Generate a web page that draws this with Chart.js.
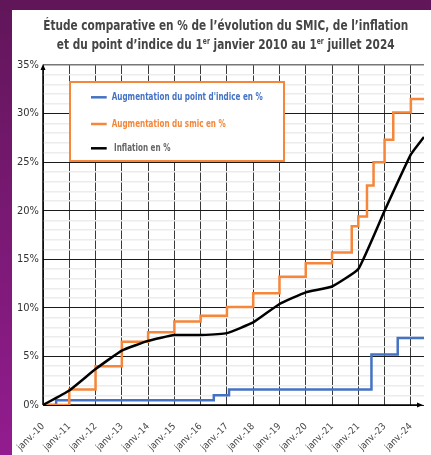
<!DOCTYPE html>
<html lang="fr">
<head>
<meta charset="utf-8">
<script src="https://cdn.jsdelivr.net/npm/chart.js@4.4.1/dist/chart.umd.min.js"></script>
<style>
  html, body { margin: 0; padding: 0; }
  body { width: 431px; height: 455px; overflow: hidden; position: relative;
         background: linear-gradient(to bottom, #611659, #931c8f); }
  #wrap { position: absolute; left: 12px; top: 10px; width: 419px; height: 445px; background: #fff; }
</style>
</head>
<body>
<div id="wrap"><canvas id="smicChart"></canvas></div>
<script>
// x tick labels (one per january, the typo on 2022 is in the original)
const xLabels = ['janv.-10', 'janv.-11', 'janv.-12', 'janv.-13', 'janv.-14', 'janv.-15', 'janv.-16',
  'janv.-17', 'janv.-18', 'janv.-19', 'janv.-20', 'janv.-21', 'janv.-21', 'janv.-23', 'janv.-24'];
const firstYear = 2010;
const lastDate = 2024.5;

// point d'indice (cumulative %)
const indiceDates = [2010, 2010.5, 2016.5, 2017.08, 2022.5, 2023.5, 2024.5];
const indiceValues = [0, 0.5, 1.0, 1.6, 5.2, 6.9, 6.9];

// smic (cumulative %)
const smicDates = [2010, 2011, 2012, 2013, 2014, 2015, 2016, 2017, 2018, 2019, 2020, 2021,
  2021.75, 2022, 2022.33, 2022.58, 2023, 2023.33, 2024, 2024.5];
const smicValues = [0, 1.6, 4.0, 6.5, 7.5, 8.6, 9.2, 10.1, 11.5, 13.2, 14.6, 15.7,
  18.4, 19.4, 22.6, 25.0, 27.3, 30.1, 31.5, 31.5];

// inflation (cumulative %)
const inflationDates = [2010, 2011, 2012, 2013, 2014, 2015, 2016, 2017, 2018, 2019, 2020, 2021,
  2022, 2023, 2024, 2024.5];
const inflationValues = [0, 1.5, 3.7, 5.6, 6.6, 7.2, 7.2, 7.4, 8.5, 10.4, 11.6, 12.2,
  14.0, 20.0, 25.8, 27.6];

const yMax = 35;

const FONT = "'Liberation Sans Narrow', 'DejaVu Sans Condensed', 'Arial Narrow', sans-serif";
const BLUE = '#4472c4';
const ORANGE = '#f5863a';

const toPoints = (xs, ys) => xs.map((x, i) => ({ x: x, y: ys[i] }));

// title with the "er" superscripts
const titleLines = [
  [{ t: 'Étude comparative en % de l’évolution du SMIC, de l’inflation' }],
  [{ t: 'et du point d’indice du 1' }, { t: 'er', sup: true }, { t: ' janvier 2010 au 1' },
   { t: 'er', sup: true }, { t: ' juillet 2024' }]
];

const titlePlugin = {
  id: 'twoLineTitle',
  afterDraw(chart) {
    const ctx = chart.ctx;
    const big = 'bold 14px ' + FONT;
    const small = 'bold 8px ' + FONT;
    const segWidth = seg => { ctx.font = seg.sup ? small : big; return ctx.measureText(seg.t).width; };
    const lineWidth = line => line.reduce((a, s) => a + segWidth(s), 0);
    const scale = 365 / lineWidth(titleLines[0]);
    const baselines = [20, 38.7];
    ctx.save();
    ctx.fillStyle = '#454545';
    ctx.textBaseline = 'alphabetic';
    ctx.textAlign = 'left';
    titleLines.forEach((line, i) => {
      const w = lineWidth(line) * scale;
      ctx.save();
      ctx.translate(213.7 - w / 2, baselines[i]);
      ctx.scale(scale, 1);
      let x = 0;
      line.forEach(seg => {
        ctx.font = seg.sup ? small : big;
        ctx.fillText(seg.t, x, seg.sup ? -5 : 0);
        x += ctx.measureText(seg.t).width;
      });
      ctx.restore();
    });
    ctx.restore();
  }
};

// axes with arrows
const axesPlugin = {
  id: 'arrowAxes',
  beforeDatasetsDraw(chart) {
    const { ctx, chartArea: a } = chart;
    ctx.save();
    ctx.strokeStyle = '#000';
    ctx.fillStyle = '#000';
    ctx.lineWidth = 1.5;
    ctx.beginPath();
    ctx.moveTo(a.left, a.bottom);
    ctx.lineTo(a.left, a.top + 2);
    ctx.moveTo(a.left, a.bottom);
    ctx.lineTo(a.right - 4, a.bottom);
    ctx.stroke();
    ctx.beginPath();
    ctx.moveTo(a.left, a.top - 1);
    ctx.lineTo(a.left - 2.5, a.top + 5);
    ctx.lineTo(a.left + 2.5, a.top + 5);
    ctx.closePath();
    ctx.fill();
    ctx.beginPath();
    ctx.moveTo(a.right - 1, a.bottom);
    ctx.lineTo(a.right - 7, a.bottom - 2.5);
    ctx.lineTo(a.right - 7, a.bottom + 2.5);
    ctx.closePath();
    ctx.fill();
    ctx.restore();
  }
};

// legend box inside the plot
const legendPlugin = {
  id: 'boxLegend',
  afterDraw(chart) {
    const ctx = chart.ctx;
    const rows = [87.3, 114, 138.3];
    const textColors = [BLUE, ORANGE, '#666'];
    const textX = [99.7, 99.7, 102];
    ctx.save();
    ctx.fillStyle = '#fff';
    ctx.fillRect(58, 72, 214, 79);
    ctx.strokeStyle = ORANGE;
    ctx.lineWidth = 2;
    ctx.strokeRect(58, 72, 214, 79);
    ctx.font = 'bold 11px ' + FONT;
    const scale = 151 / ctx.measureText(chart.data.datasets[0].label).width;
    chart.data.datasets.forEach((ds, i) => {
      ctx.strokeStyle = ds.borderColor;
      ctx.lineWidth = 2.5;
      ctx.beginPath();
      ctx.moveTo(79, rows[i]);
      ctx.lineTo(94.7, rows[i]);
      ctx.stroke();
      ctx.save();
      ctx.translate(textX[i], rows[i]);
      ctx.scale(scale, 1);
      ctx.fillStyle = textColors[i];
      ctx.textBaseline = 'middle';
      ctx.fillText(ds.label, 0, 0);
      ctx.restore();
    });
    ctx.restore();
  }
};

new Chart('smicChart', {
  type: 'line',
  data: {
    datasets: [
      {
        label: "Augmentation du point d'indice en %",
        data: toPoints(indiceDates, indiceValues),
        borderColor: BLUE,
        borderWidth: 2.5,
        stepped: true,
        pointRadius: 0,
        order: 3
      },
      {
        label: 'Augmentation du smic en %',
        data: toPoints(smicDates, smicValues),
        borderColor: ORANGE,
        borderWidth: 2.5,
        stepped: true,
        pointRadius: 0,
        order: 2
      },
      {
        label: 'Inflation en %',
        data: toPoints(inflationDates, inflationValues),
        borderColor: '#000',
        borderWidth: 2.5,
        tension: 0.12,
        pointRadius: 0,
        order: 1
      }
    ]
  },
  options: {
    responsive: true,
    maintainAspectRatio: false,
    animation: false,
    layout: { padding: { top: 55, right: 7, left: 0, bottom: 0 } },
    plugins: {
      legend: { display: false },
      title: { display: false },
      tooltip: { enabled: false }
    },
    scales: {
      x: {
        type: 'linear',
        min: firstYear,
        max: lastDate,
        afterBuildTicks: s => { s.ticks = xLabels.map((l, i) => ({ value: firstYear + i })); },
        afterFit: s => { s.height = 50; s.paddingLeft = 0; s.paddingRight = 0; },
        border: { display: false },
        grid: { color: '#3a3a3a', lineWidth: 1, drawTicks: false },
        ticks: {
          autoSkip: false,
          minRotation: 45,
          maxRotation: 45,
          padding: 16,
          color: '#444',
          font: { family: FONT, size: 9.5 },
          callback: v => xLabels[Math.round(v) - firstYear]
        }
      },
      y: {
        min: 0,
        max: yMax,
        afterBuildTicks: s => { s.ticks = Array.from({ length: yMax + 1 }, (_, i) => ({ value: i })); },
        afterFit: s => { s.width = 31; },
        border: { display: false },
        grid: {
          drawTicks: false,
          color: c => c.tick.value === yMax ? '#777' : (c.tick.value % 5 === 0 ? '#1a1a1a' : '#ececec'),
          lineWidth: c => c.tick.value % 5 === 0 ? (c.tick.value === yMax ? 1.5 : 1) : 1.5
        },
        ticks: {
          autoSkip: false,
          padding: 4,
          color: '#333',
          font: { family: FONT, size: 11 },
          callback: v => v % 5 === 0 ? v + '%' : ''
        }
      }
    }
  },
  plugins: [titlePlugin, axesPlugin, legendPlugin]
});
</script>
</body>
</html>
